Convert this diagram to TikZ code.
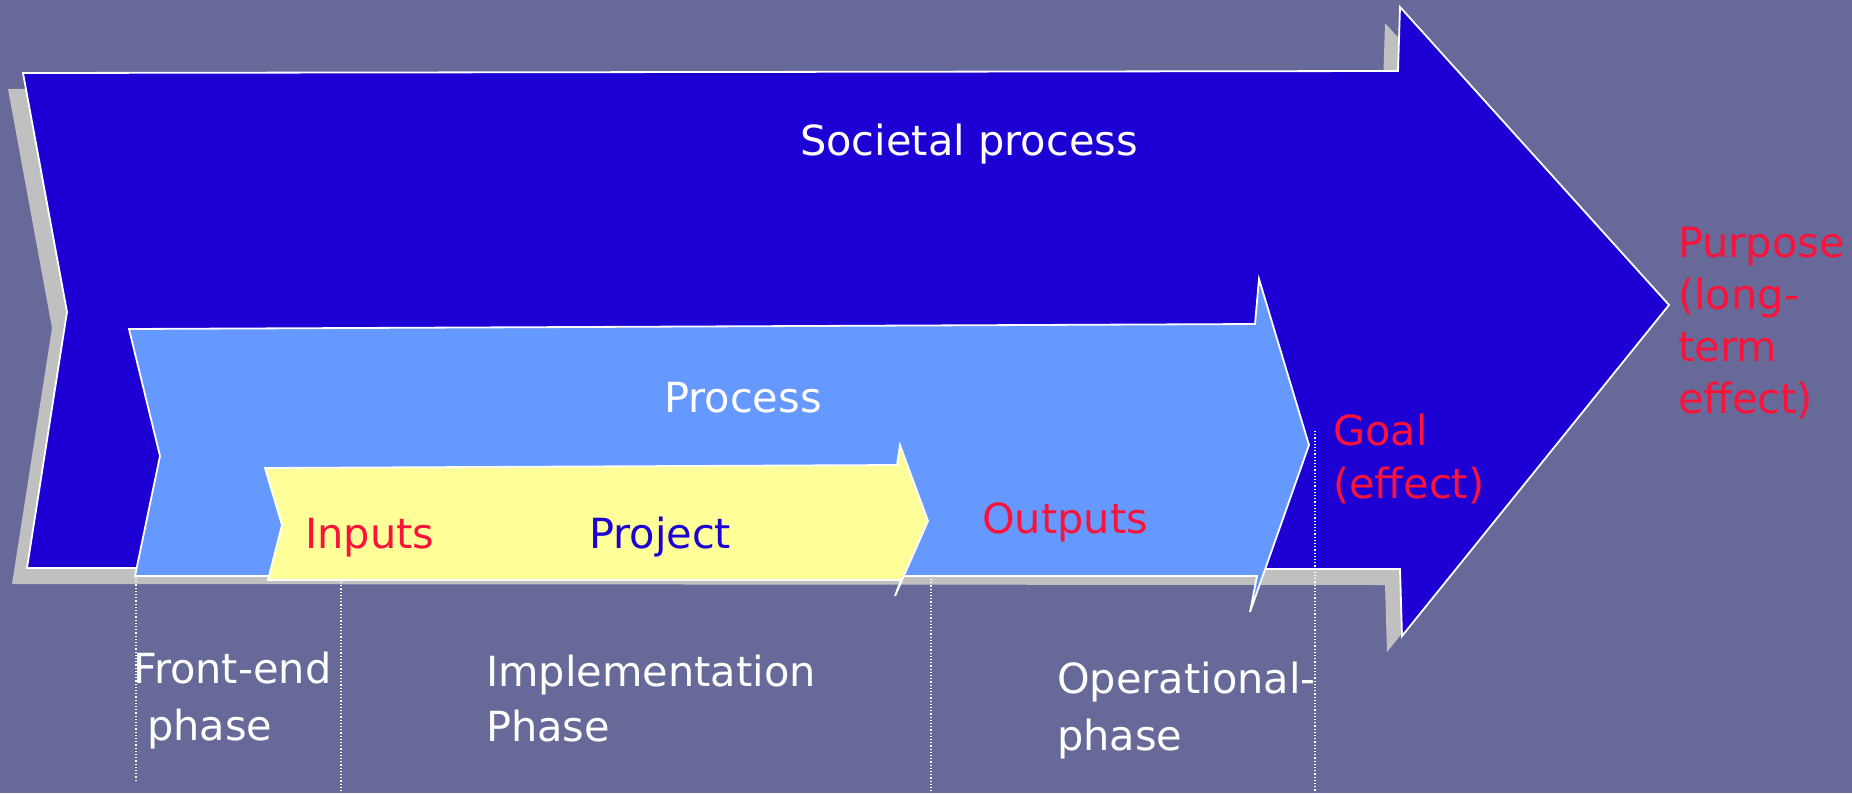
\documentclass[tikz,border=0pt]{standalone}
\usepackage{fontspec}
\setmainfont{DejaVu Sans}
\usepackage{tikz}
\usetikzlibrary{positioning}

\definecolor{slatebg}{RGB}{103,105,153}
\definecolor{societyblue}{RGB}{28,0,212}
\definecolor{processblue}{RGB}{102,153,255}
\definecolor{projectyellow}{RGB}{255,255,153}
\definecolor{shadowgray}{RGB}{192,192,192}
\definecolor{aimred}{RGB}{250,18,58}

\begin{document}
\begin{tikzpicture}[%
    x=1pt,
    y=-1pt,
    outlined/.style={%
      draw=white,
      line width=1.8pt,
      line join=miter
    },
    phasetext/.style={%
      font=\fontsize{41.5}{55}\selectfont,
      inner sep=0pt,
      align=left,
      anchor=base west
    },
    guide/.style={%
      white,
      line width=1.2pt,
      dash pattern=on 1.2pt off 2pt
    }
  ]
  \fill[slatebg] (0,0) rectangle (1852,793);
  \useasboundingbox (0,0) rectangle (1852,793);
  % Arrows: 
    \begin{scope}[shift={(-15,16)}]
      \fill[shadowgray] (23,73) -- (1398,71) -- (1400,7) -- (1669,305)
        -- (1402,636) -- (1400,569) -- (27,568) -- (67,312) -- cycle;
    \end{scope}
    \path[outlined, fill=societyblue] (23,73) -- (1398,71) -- (1400,7)
      -- (1669,305) -- (1402,636) -- (1400,569) -- (27,568) -- (67,312) -- cycle;
    \path[outlined, fill=processblue] (129,329) -- (1255,324) -- (1259,279)
      -- (1309,445) -- (1250,612) -- (1257,576) -- (135,576) -- (160,456) -- cycle;
    \path[outlined, fill=projectyellow] (265,468) -- (897,465) -- (900,445)
      -- (928,521) -- (895,596) -- (901,580) -- (268,580) -- (282,525) -- cycle;
  % Guides: 
    \coordinate (FT) at (136,578);
    \coordinate (FB) at (136,782);
    \coordinate (IT) at (341,582);
    \coordinate (IB) at (341,793);
    \coordinate (OT) at (931,579);
    \coordinate (OB) at (931,793);
    \coordinate (GT) at (1315,431);
    \coordinate (GB) at (1315,793);
    \draw[guide] (FT) -- (FB);
    \draw[guide] (IT) -- (IB);
    \draw[guide] (OT) -- (OB);
    \draw[guide] (GT) -- (GB);
  % Nodes: 
    \node[phasetext, white]       (S) at (800,155)  {Societal process};
    \node[phasetext, white]       (P) at (664,412)  {Process};
    \node[phasetext, aimred]      (I) at (305,548)  {Inputs};
    \node[phasetext, societyblue] (J) at (589,548)  {Project};
    \node[phasetext, aimred]      (U) at (982,533)  {Outputs};
    \node[phasetext, aimred, font=\fontsize{41.5}{53}\selectfont]
                                  (G) at (1333,498) {Goal\\(effect)};
    \node[phasetext, aimred, font=\fontsize{41.5}{52}\selectfont]
                                  (R) at (1678,413) {Purpose\\(long-\\term\\effect)};
    \node[phasetext, white, font=\fontsize{41.5}{57}\selectfont]
                                  (F) at (133,740)  {Front-end\\\hspace*{14pt}phase};
    \node[phasetext, white]       (M) at (486,741)  {Implementation\\Phase};
    \node[phasetext, white, font=\fontsize{41.5}{57}\selectfont]
                                  (O) at (1057,750) {Operational-\\phase};
\end{tikzpicture}
\end{document}
